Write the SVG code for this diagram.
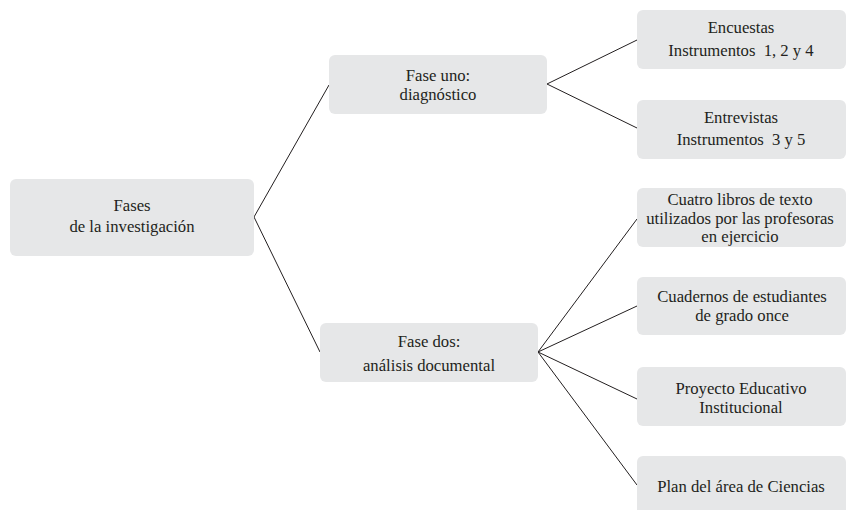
<svg xmlns="http://www.w3.org/2000/svg" width="846" height="510" viewBox="0 0 846 510">
  <style>
    .box { fill: #e6e7e8; }
    .lbl { font-family: "Liberation Serif", "Times New Roman", serif; font-size: 16.7px; fill: #231f20; text-anchor: middle; }
    .link { stroke: #231f20; stroke-width: 1; fill: none; }
  </style>
  <rect width="846" height="510" fill="#ffffff"/>

  <g id="connectors">
    <polyline class="link" points="329,85 254,217 320,352"/>
    <polyline class="link" points="637,40 547,84 637,128"/>
    <line class="link" x1="538" y1="352" x2="637" y2="219"/>
    <line class="link" x1="538" y1="352" x2="637" y2="306"/>
    <line class="link" x1="538" y1="352" x2="637" y2="399"/>
    <line class="link" x1="538" y1="352" x2="637" y2="485"/>
  </g>

  <g id="root">
    <rect class="box" x="10" y="179" width="244" height="77" rx="6"/>
    <text class="lbl" x="132" y="211">Fases</text>
    <text class="lbl" x="132" y="232">de la investigación</text>
  </g>

  <g id="fase-uno">
    <rect class="box" x="329" y="55" width="218" height="59" rx="6"/>
    <text class="lbl" x="438" y="81">Fase uno:</text>
    <text class="lbl" x="438" y="100">diagnóstico</text>
  </g>

  <g id="fase-dos">
    <rect class="box" x="320" y="323" width="218" height="59" rx="6"/>
    <text class="lbl" x="429" y="347">Fase dos:</text>
    <text class="lbl" x="429" y="371">análisis documental</text>
  </g>

  <g id="encuestas">
    <rect class="box" x="637" y="10" width="209" height="59" rx="6"/>
    <text class="lbl" x="741" y="33">Encuestas</text>
    <text class="lbl" x="741" y="56">Instrumentos<tspan dx="4"> 1, 2 y 4</tspan></text>
  </g>

  <g id="entrevistas">
    <rect class="box" x="637" y="100" width="209" height="59" rx="6"/>
    <text class="lbl" x="741" y="123">Entrevistas</text>
    <text class="lbl" x="741" y="145">Instrumentos<tspan dx="4"> 3 y 5</tspan></text>
  </g>

  <g id="libros">
    <rect class="box" x="637" y="188" width="209" height="59" rx="6"/>
    <text class="lbl" x="740" y="205">Cuatro libros de texto</text>
    <text class="lbl" x="740" y="224">utilizados por las profesoras</text>
    <text class="lbl" x="740" y="242">en ejercicio</text>
  </g>

  <g id="cuadernos">
    <rect class="box" x="637" y="277" width="209" height="58" rx="6"/>
    <text class="lbl" x="742" y="302">Cuadernos de estudiantes</text>
    <text class="lbl" x="742" y="321">de grado once</text>
  </g>

  <g id="proyecto">
    <rect class="box" x="637" y="367" width="209" height="59" rx="6"/>
    <text class="lbl" x="741" y="394">Proyecto Educativo</text>
    <text class="lbl" x="741" y="413">Institucional</text>
  </g>

  <g id="plan">
    <rect class="box" x="637" y="456" width="209" height="60" rx="6"/>
    <text class="lbl" x="741" y="492">Plan del área de Ciencias</text>
  </g>
</svg>
